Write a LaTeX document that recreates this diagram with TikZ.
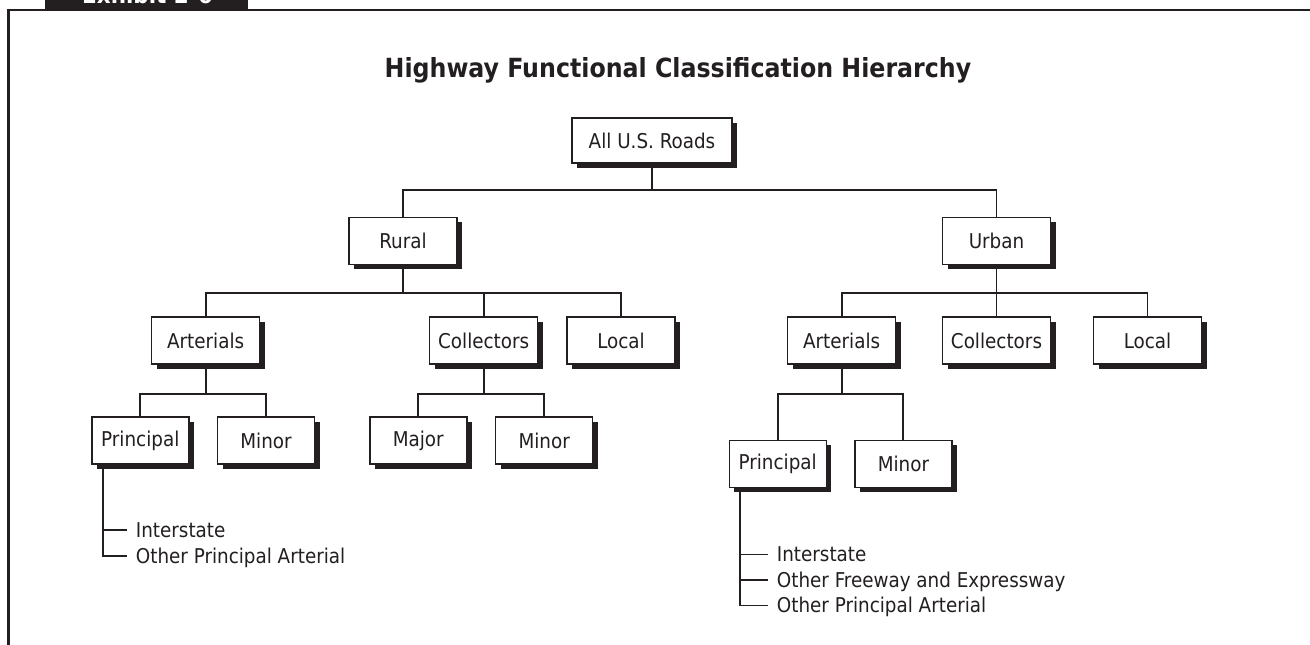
\documentclass[tikz,border=0pt]{standalone}
\usepackage{fontspec}
\setmainfont{DejaVu Sans Condensed}
\usetikzlibrary{shadows}
\definecolor{ink}{RGB}{35,31,32}

\begin{document}
\begin{tikzpicture}
[x=0.2mm, y=-0.2mm, draw=ink, line width=1.1pt,
font=\fontsize{11.6}{14}\selectfont,
box/.style={rectangle, draw=ink, line width=0.8pt, fill=white, text=ink,
    inner sep=0pt, minimum height=9.4mm,
    drop shadow={shadow xshift=1mm, shadow yshift=-1mm, fill=ink, opacity=1}},
wide/.style={box, minimum width=21.6mm},
narrow/.style={box, minimum width=19.4mm},
item/.style={anchor=west, text=ink, inner xsep=1.65mm, inner ysep=0pt,
    text height=8.5pt, text depth=0pt}]

\useasboundingbox (0,0) rectangle (1310,645);

% frame and exhibit tab
\fill[ink] (45,-10) rectangle (248.3,10);
\node[anchor=base, text=white, font=\bfseries\fontsize{13.6}{16}\selectfont]
    (tab) at (147.5,4) {Exhibit 2-6};
\draw[line width=1.5pt] (8.7,645) -- (8.7,10) -- (1310,10);

\node[anchor=base, text=ink, font=\bfseries\fontsize{15}{18}\selectfont]
    (title) at (678,78) {Highway Functional Classification Hierarchy};

\node[box, minimum width=32mm, minimum height=9mm] (roads) at (652,140.5) {All U.S. Roads};

\node[wide] (rural) at (403,241) {Rural};
\node[wide] (urban) at (996.5,241) {Urban};

\node[wide] (rart) at (205.6,340.7) {Arterials};
\node[wide] (rcol) at (483.7,340.7) {Collectors};
\node[wide] (rloc) at (621,340.7) {Local};
\node[wide] (uart) at (841.6,340.7) {Arterials};
\node[wide] (ucol) at (996.5,340.7) {Collectors};
\node[wide] (uloc) at (1147.5,340.7) {Local};

\node[narrow] (rprin) at (140.3,440.5) {Principal};
\node[narrow] (rmin) at (266,440.5) {Minor};
\node[narrow] (rmaj) at (418.3,440.5) {Major};
\node[narrow] (rcmin) at (544.2,440.5) {Minor};
\node[narrow] (uprin) at (777.7,463.8) {Principal};
\node[narrow] (umin) at (903.4,463.8) {Minor};

\foreach \p/\c/\d in {roads/rural/26, roads/urban/26,
    rural/rart/28, rural/rcol/28, rural/rloc/28,
    urban/uart/28, urban/ucol/28, urban/uloc/28,
    rart/rprin/29, rart/rmin/29, rcol/rmaj/29, rcol/rcmin/29,
    uart/uprin/29, uart/umin/29} {
    \draw (\p.south) -- ++(0,\d) -| (\c.north);
}

% principal arterial lists
\coordinate (rtrunk) at ([xshift=2.3mm]rprin.south west);
\foreach \t [count=\i] in {Interstate, Other Principal Arterial} {
    \node[item] (ri\i) at (126.7,504+26*\i) {\t};
    \draw (rtrunk) |- (ri\i.west);
}

\coordinate (utrunk) at ([xshift=2.3mm]uprin.south west);
\foreach \t [count=\i] in {Interstate, Other Freeway and Expressway, Other Principal Arterial} {
    \node[item] (ui\i) at (767.7,529+25.5*\i) {\t};
    \draw (utrunk) |- (ui\i.west);
}

\end{tikzpicture}
\end{document}
